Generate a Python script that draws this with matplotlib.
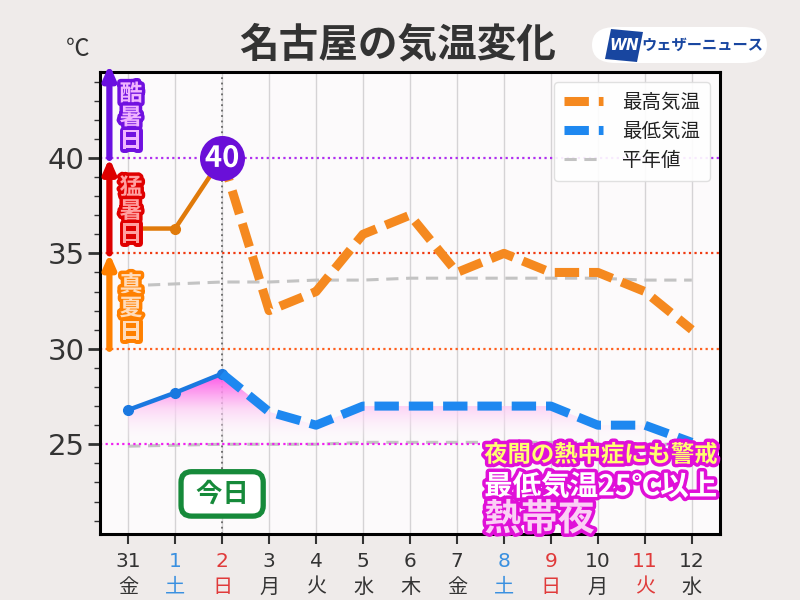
import numpy as np
import matplotlib
matplotlib.use("Agg")
import matplotlib.pyplot as plt
import matplotlib.patheffects as pe
from matplotlib.colors import LinearSegmentedColormap
from matplotlib.patches import FancyBboxPatch, Polygon
from matplotlib.lines import Line2D

plt.rcParams['font.family'] = ['Noto Sans CJK JP', 'DejaVu Sans']

# ---- data ----
days = ['31', '1', '2', '3', '4', '5', '6', '7', '8', '9', '10', '11', '12']
weekdays = ['金', '土', '日', '月', '火', '水', '木', '金', '土', '日', '月', '火', '水']
day_colors = ['#333333', '#3a90e0', '#e03a3a', '#333333', '#333333', '#333333', '#333333',
              '#333333', '#3a90e0', '#e03a3a', '#333333', '#e03a3a', '#333333']
max_obs = [36.3, 36.3, 40.0]                      # 31, 1, 2 (observed)
max_fc = [40.0, 32, 33, 36, 37, 34, 35, 34, 34, 33, 31]  # 2 .. 12 (forecast)
min_obs = [26.8, 27.7, 28.7]
min_fc = [28.7, 26.7, 26, 27, 27, 27, 27, 27, 26, 26, 25.1]
normal_max = [33.3, 33.4, 33.5, 33.5, 33.6, 33.6, 33.7, 33.7, 33.7, 33.7, 33.7, 33.6, 33.6]
normal_min = [24.9, 24.95, 25.0, 25.0, 25.0, 25.1, 25.1, 25.1, 25.1, 25.1, 25.1, 25.0, 25.0]
today_idx = 2
peak_label = '40'

x = np.arange(len(days))
x_obs = x[:3]
x_fc = x[2:]

NUMFONT = ['DejaVu Sans', 'Noto Sans CJK JP']
DASH = (0, (2.7, 1.1))

fig = plt.figure(figsize=(8, 6), dpi=100)
fig.patch.set_facecolor('#efebea')
ax = fig.add_axes([0.125, 0.11, 0.775, 0.77])
ax.set_facecolor('#fcfafb')

# grid
for xi in x:
    ax.axvline(xi, color='#d5d3d5', lw=1.0, zorder=0)
ax.axvline(today_idx, color='#666666', lw=1.3, ls=(0, (1, 2)), zorder=1)

# threshold lines
ax.axhline(40, color='#b030f0', lw=1.6, ls=(0, (1, 1.5)), zorder=1)
ax.axhline(35, color='#f03a10', lw=1.6, ls=(0, (1, 1.5)), zorder=1)
ax.axhline(30, color='#ff6020', lw=1.6, ls=(0, (1, 1.5)), zorder=1)

# normals
ax.plot(x, normal_max, color='#c3c3c3', lw=2.2, ls=(0, (4, 2.5)), zorder=2)
ax.plot(x, normal_min, color='#c3c3c3', lw=2.2, ls=(0, (4, 2.5)), zorder=2)
ax.axhline(25, color='#f020f0', lw=1.6, ls=(0, (1, 1.5)), zorder=2.5)

# gradient fill between min temps and 25
min_all = list(min_obs) + list(min_fc[1:])
fb = ax.fill_between(x, min_all, 25, color='none', lw=0)
path = fb.get_paths()[0]
grad = np.linspace(0, 1, 256).reshape(-1, 1)
cmap = LinearSegmentedColormap.from_list('g', [(1, 1, 1, 0.0), (0.99, 0.80, 0.96, 0.75),
                                               (1.0, 0.30, 0.90, 1.0)])
im = ax.imshow(grad, extent=[x[0], x[-1], 25, max(min_all)], origin='lower', cmap=cmap,
               aspect='auto', zorder=2, interpolation='bilinear')
im.set_clip_path(path, transform=ax.transData)

# max temps
ax.plot(x_obs, max_obs, color='#e07a0a', lw=3.2, marker='o', ms=7, zorder=4)
ax.plot(x_fc, max_fc, color='#f5891f', lw=6.5, ls=DASH, dash_capstyle='butt', zorder=4)
# min temps
ax.plot(x_obs, min_obs, color='#1a78e0', lw=3.2, marker='o', ms=7, zorder=4)
ax.plot(x_fc, min_fc, color='#1e88f0', lw=6.5, ls=DASH, dash_capstyle='butt', zorder=4)

# legend
handles = [Line2D([], [], color='#f5891f', lw=6.5, ls=DASH),
           Line2D([], [], color='#1e88f0', lw=6.5, ls=DASH),
           Line2D([], [], color='#c3c3c3', lw=2.2, ls=(0, (4, 2.5)))]
leg = ax.legend(handles, ['最高気温', '最低気温', '平年値'], loc='upper right',
                bbox_to_anchor=(0.984, 0.978), borderaxespad=0, fontsize=14, handlelength=2.0,
                labelspacing=0.42, borderpad=0.5, handletextpad=1.0, framealpha=0.9,
                edgecolor='#dddddd', fancybox=True)
leg.set_zorder(6)
for t in leg.get_texts():
    t.set_color('#222222')

# peak circle
ax.scatter([today_idx], [max_obs[-1]], s=1050, color='#6a0fd8', zorder=6, linewidths=0)
ax.text(today_idx, max_obs[-1], peak_label, ha='center', va='center', fontsize=21,
        fontweight='bold', color='white', zorder=7,
        path_effects=[pe.withStroke(linewidth=3, foreground='#6a0fd8')])

# left arrows
arrow_x = -0.4
for y0, y1, c in [(30, 35, '#ff8000'), (35, 40, '#dd0000'), (40, 44.9, '#6a10e0')]:
    ax.annotate('', xy=(arrow_x, y1), xytext=(arrow_x, y0),
                arrowprops=dict(arrowstyle='-|>,head_length=0.8,head_width=0.35', color=c, lw=4.5,
                                shrinkA=0, shrinkB=0),
                zorder=5, annotation_clip=False)

for txt, yc, fill, edge in [('酷\n暑\n日', 42.1, '#f0b4ff', '#7010e0'),
                            ('猛\n暑\n日', 37.2, '#ffa0a0', '#e00000'),
                            ('真\n夏\n日', 32.1, '#ffdcbc', '#ff8000')]:
    ax.text(0.06, yc, txt, ha='center', va='center', fontsize=16.5, fontweight='bold',
            color=fill, linespacing=1.02, zorder=6,
            path_effects=[pe.withStroke(linewidth=5, foreground=edge)])

# today box
ax.text(today_idx, 22.4, ' 今日 ', ha='center', va='center', fontsize=19, fontweight='bold',
        color='#168a3a', zorder=6,
        bbox=dict(boxstyle='round,pad=0.33,rounding_size=0.4', fc='white', ec='#168a3a', lw=3.8))

# bottom right texts
xl = 7.58
ax.text(xl, 24.45, '夜間の熱中症にも警戒', ha='left', va='center', fontsize=16.8, fontweight='bold',
        color='#ffff70', zorder=7, path_effects=[pe.withStroke(linewidth=5, foreground='#e010d8')])
ax.text(xl, 22.75, '最低気温25℃以上', ha='left', va='center', fontsize=20.5, fontweight='bold',
        color='white', zorder=7, path_effects=[pe.withStroke(linewidth=5, foreground='#e010d8')])
ax.text(xl, 21.05, '熱帯夜', ha='left', va='center', fontsize=26.5, fontweight='bold',
        color='#fbd0f5', zorder=7, path_effects=[pe.withStroke(linewidth=5, foreground='#e010d8')])

# axes
ax.set_xlim(-0.6, 12.6)
ax.set_ylim(20.3, 44.5)
ax.set_xticks(x)
ax.set_xticklabels([f'{d}\n{w}' for d, w in zip(days, weekdays)], fontsize=14.5,
                   linespacing=1.45, family=NUMFONT)
ax.set_yticks([25, 30, 35, 40])
ax.set_yticks(np.arange(21, 45, 1), minor=True)
ax.set_yticklabels(['25', '30', '35', '40'], family=NUMFONT)
ax.tick_params(axis='y', which='major', labelsize=21, length=9, width=2, colors='#333333', pad=2)
ax.tick_params(axis='y', which='minor', length=4, width=1, colors='#333333')
ax.tick_params(axis='x', length=7, width=1.5, colors='#333333', pad=6)
for lbl, c in zip(ax.get_xticklabels(), day_colors):
    lbl.set_color(c)
for s in ax.spines.values():
    s.set_linewidth(2.2)
    s.set_color('black')

# title and unit
fig.text(0.497, 0.925, '名古屋の気温変化', ha='center', va='center', fontsize=28.5,
         fontweight='bold', color='#333333')
fig.text(0.097, 0.918, '℃', ha='center', va='center', fontsize=17, color='#333333')

# logo
logo = FancyBboxPatch((592 / 800, 1 - 63 / 600), 175 / 800, 36 / 600,
                      boxstyle='round,pad=0,rounding_size=0.03', transform=fig.transFigure,
                      fc='white', ec='none', zorder=1)
fig.patches.append(logo)
wn = Polygon([[605 / 800, 1 - 59 / 600], [611 / 800, 1 - 29 / 600],
              [643 / 800, 1 - 32 / 600], [637 / 800, 1 - 62 / 600]], closed=True,
             transform=fig.transFigure, fc='#1846a0', ec='none', zorder=2)
fig.patches.append(wn)
fig.text(624 / 800, 1 - 46 / 600, 'WN', ha='center', va='center', fontsize=11, fontweight='bold',
         style='italic', color='white', family='DejaVu Sans', zorder=3)
fig.text(702 / 800, 1 - 45 / 600, 'ウェザーニュース', ha='center', va='center', fontsize=11,
         fontweight='bold', color='#1846a0', zorder=3)

fig.savefig('out.png', dpi=100, facecolor=fig.get_facecolor())
